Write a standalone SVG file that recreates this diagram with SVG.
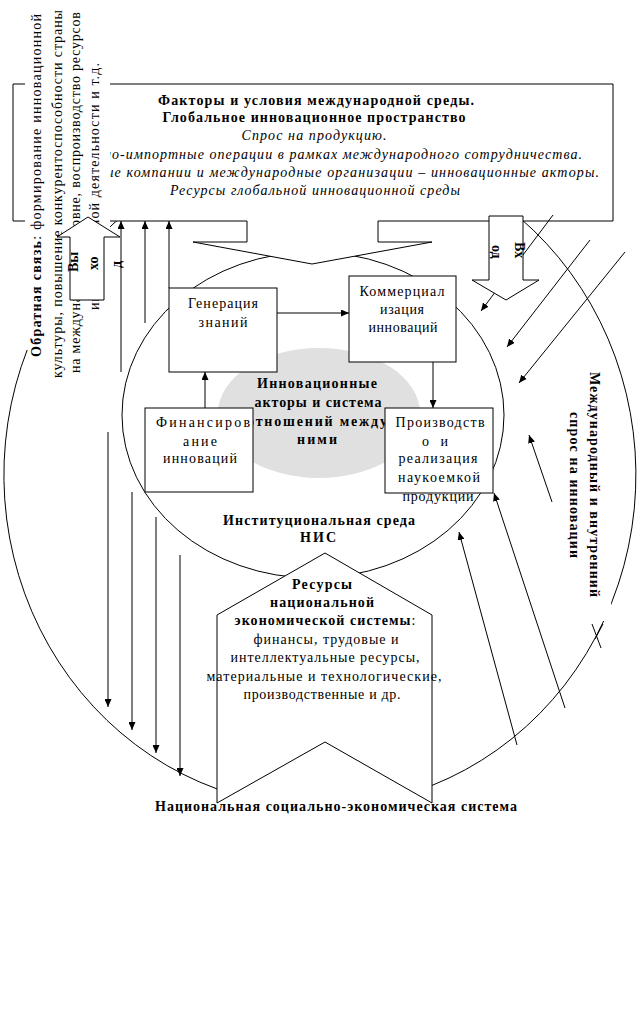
<svg xmlns="http://www.w3.org/2000/svg" width="638" height="1021" viewBox="0 0 638 1021">
<style>
.ln{fill:none;stroke:#000;stroke-width:1}
.bx{fill:#fff;stroke:#000;stroke-width:1}
.t{font-family:"Liberation Serif","Times New Roman",serif;font-size:14px;fill:#000}
.b{font-weight:bold}
.i{font-style:italic}
.c{text-anchor:middle}
.e{text-anchor:end}
.s{font-size:14px}
.ar{fill:none;stroke:#000;stroke-width:1;marker-end:url(#ah)}
</style>
<defs>
<marker id="ah" viewBox="0 0 8 7" refX="8" refY="3.5" markerWidth="8" markerHeight="7" markerUnits="userSpaceOnUse" orient="auto"><path d="M0,0L8,3.5L0,7z" fill="#000"/></marker>
</defs>
<rect width="638" height="1021" fill="#fff"/>

<g id="national-system">
<path class="ln" d="M217,788.9A316,332 0 1 1 432,785.4"/>
</g>

<g id="nis">
<ellipse class="ln" cx="313" cy="415" rx="191" ry="163"/>
<ellipse cx="319" cy="413" rx="101" ry="65" fill="#e0e0e0"/>
<text class="t b c" x="317" y="388" textLength="120">Инновационные</text>
<text class="t b c" x="318" y="407" textLength="127">акторы и система</text>
<text class="t b c" x="317" y="426" textLength="140">отношений между</text>
<text class="t b c" x="317" y="444" textLength="40">ними</text>
<text class="t b c" x="319" y="525" textLength="192">Институциональная среда</text>
<text class="t b c" x="318" y="542" textLength="36">НИС</text>
</g>

<g id="global-environment">
<path class="bx" d="M13,84H613V221H378V242H432L312,264L193,242H247V221H13Z"/>
<text class="t b c" x="316" y="105" textLength="316">Факторы и условия международной среды.</text>
<text class="t b c" x="314" y="122" textLength="303">Глобальное инновационное пространство</text>
<text class="t i c" x="314" y="140" textLength="145">Спрос на продукцию.</text>
<text class="t i e" x="582" y="159" textLength="478">но-импортные операции в рамках международного сотрудничества.</text>
<text class="t i e" x="599" y="177" textLength="495">ые компании и международные организации – инновационные акторы.</text>
<text class="t i c" x="315" y="195" textLength="290">Ресурсы глобальной инновационной среды</text>
</g>

<g id="connectors">
<line class="ar" x1="121" y1="372" x2="121" y2="221"/>
<line class="ar" x1="145" y1="323" x2="145" y2="221"/>
<line class="ar" x1="169" y1="288" x2="169" y2="221"/>
<line class="ar" x1="108" y1="432" x2="108" y2="707"/>
<line class="ar" x1="132" y1="492" x2="132" y2="730"/>
<line class="ar" x1="156" y1="517" x2="156" y2="753"/>
<line class="ar" x1="180" y1="555" x2="180" y2="776"/>
<line class="ar" x1="277" y1="313" x2="349" y2="313"/>
<line class="ar" x1="433" y1="362" x2="433" y2="408"/>
<line class="ar" x1="205" y1="408" x2="205" y2="372"/>
<line class="ar" x1="553" y1="215" x2="481" y2="311"/>
<line class="ar" x1="590" y1="240" x2="507" y2="347"/>
<line class="ar" x1="625" y1="252" x2="519" y2="383"/>
<line class="ar" x1="552" y1="502" x2="529" y2="435"/>
<line class="ar" x1="565" y1="708" x2="494" y2="493"/>
<line class="ar" x1="517" y1="745" x2="459" y2="532"/>
<line class="ln" x1="592" y1="624" x2="601" y2="648"/>
<line class="ln" x1="603" y1="624" x2="595" y2="639"/>
</g>

<g id="knowledge-generation">
<rect class="bx" x="169" y="288" width="108" height="84"/>
<text class="t c" x="223" y="308" textLength="70">Генерация</text>
<text class="t c" x="223" y="327" textLength="49">знаний</text>
</g>

<g id="commercialization">
<rect class="bx" x="349" y="276" width="107" height="86"/>
<text class="t c" x="402" y="296" textLength="85">Коммерциал</text>
<text class="t c" x="402" y="314" textLength="44">изация</text>
<text class="t c" x="403" y="332" textLength="69">инноваций</text>
</g>

<g id="financing">
<rect class="bx" x="145" y="408" width="108" height="84"/>
<text class="t c" x="203" y="427" textLength="94">Финансиров</text>
<text class="t c" x="200" y="446" textLength="34">ание</text>
<text class="t c" x="200" y="463" textLength="74">инноваций</text>
</g>

<g id="production">
<rect class="bx" x="385" y="408" width="108" height="85"/>
<text class="t c" x="440" y="427" textLength="89">Производств</text>
<text class="t c" x="435" y="446" textLength="26">о и</text>
<text class="t c" x="438" y="463" textLength="79">реализация</text>
<text class="t c" x="439" y="482" textLength="82">наукоемкой</text>
<text class="t c" x="438" y="501" textLength="71">продукции</text>
</g>

<g id="resources">
<path class="bx" d="M325,553L432,615V803L325,742L217,803V615Z"/>
<text class="t b c" x="322" y="589" textLength="60">Ресурсы</text>
<text class="t b c" x="322" y="607" textLength="104">национальной</text>
<text class="t c" x="325" y="625" textLength="181"><tspan class="b">экономической системы</tspan>:</text>
<text class="t c" x="326" y="644" textLength="145">финансы, трудовые и</text>
<text class="t c" x="325" y="662" textLength="189">интеллектуальные ресурсы,</text>
<text class="t c" x="324" y="681" textLength="235">материальные и технологические,</text>
<text class="t c" x="322" y="699" textLength="157">производственные и др.</text>
</g>

<g id="feedback">
<rect x="25" y="0" width="85" height="350" fill="#fff"/>
<rect x="45" y="340" width="65" height="45" fill="#fff"/>
<text class="t" transform="translate(41,357) rotate(-90)" textLength="343"><tspan class="b">Обратная связь</tspan>: формирование инновационной</text>
<text class="t" transform="translate(62,378) rotate(-90)" textLength="368">культуры, повышение конкурентоспособности страны</text>
<text class="t" transform="translate(80,373) rotate(-90)" textLength="361">на международном уровне, воспроизводство ресурсов</text>
<text class="t" transform="translate(99,310) rotate(-90)" textLength="247">инновационной деятельности и т.д.</text>
</g>

<g id="output-arrow">
<path class="bx" d="M88,217L120,237H104V300H70V237H57Z"/>
<text class="t b" font-size="16" transform="translate(78,272) rotate(-90)">Вы</text>
<text class="t b" transform="translate(98,270) rotate(-90)">хо</text>
<text class="t b" transform="translate(121,268) rotate(-90)">д</text>
</g>

<g id="input-arrow">
<path class="bx" d="M489,216H523V280H539L506,300L472,280H489Z"/>
<text class="t b" font-size="16" transform="translate(515,242) rotate(90)">Вх</text>
<text class="t b" transform="translate(492,245) rotate(90)">од</text>
</g>

<g id="demand">
<rect x="562" y="365" width="49" height="256" fill="#fff"/>
<text class="t b" transform="translate(590,372) rotate(90)" textLength="225">Международный и внутренний</text>
<text class="t b" transform="translate(570,412) rotate(90)" textLength="146">спрос на инновации</text>
</g>

<g id="national-label">
<text class="t b c" x="336" y="811" textLength="362">Национальная социально-экономическая система</text>
</g>
</svg>
